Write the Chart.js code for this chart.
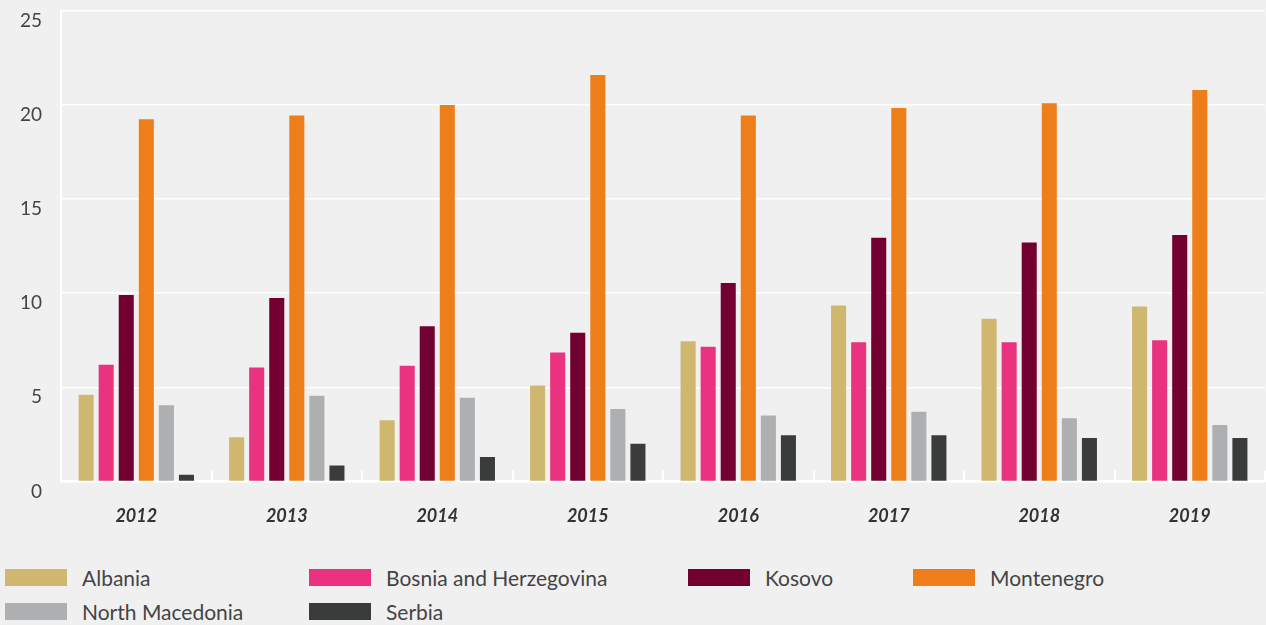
<!DOCTYPE html>
<html>
<head>
<meta charset="utf-8">
<script src="https://cdn.jsdelivr.net/npm/chart.js@4.4.1/dist/chart.umd.min.js"></script>
<style>
    body { margin: 0; background: #f0f0f0; }
    #contenedor { position: relative; width: 1266px; height: 625px; background: #f0f0f0; }
    #zonaGrafico { position: absolute; left: 0; top: 0; width: 1266px; height: 551px; }
    #leyenda { position: absolute; left: 5px; top: 566px; width: 1261px; display: flex; flex-wrap: wrap; row-gap: 11px; }
    .item { display: flex; align-items: center; height: 23px; font-family: Lato, sans-serif; font-size: 21px; color: #444; }
    .caja { width: 62px; height: 17px; margin-right: 15px; }
</style>
</head>
<body>
<div id="contenedor">
    <div id="zonaGrafico"><canvas id="graficoPaises"></canvas></div>
    <div id="leyenda"></div>
</div>
<script>
// Años y valores por país
const anios = ['2012', '2013', '2014', '2015', '2016', '2017', '2018', '2019'];
const albania = [4.6, 2.35, 3.25, 5.1, 7.45, 9.35, 8.65, 9.3];
const bosnia = [6.2, 6.05, 6.15, 6.85, 7.15, 7.4, 7.4, 7.5];
const kosovo = [9.9, 9.75, 8.25, 7.9, 10.55, 12.95, 12.7, 13.1];
const montenegro = [19.25, 19.45, 20.0, 21.6, 19.45, 19.85, 20.1, 20.8];
const macedonia = [4.05, 4.55, 4.45, 3.85, 3.5, 3.7, 3.35, 3.0];
const serbia = [0.35, 0.85, 1.3, 2.0, 2.45, 2.45, 2.3, 2.3];
const ticksY = [0, 5, 10, 15, 20, 25];

const series = [
    { nombre: 'Albania', datos: albania, color: '#CFB76F' },
    { nombre: 'Bosnia and Herzegovina', datos: bosnia, color: '#EA327E' },
    { nombre: 'Kosovo', datos: kosovo, color: '#720030' },
    { nombre: 'Montenegro', datos: montenegro, color: '#EE7E19' },
    { nombre: 'North Macedonia', datos: macedonia, color: '#ADAFB1' },
    { nombre: 'Serbia', datos: serbia, color: '#3A3C3B' }
];

// anchos de cada elemento de la leyenda (4 columnas)
const anchosLeyenda = [304, 379, 225, 300];

// marcas blancas entre años, hacia arriba desde la base
const marcasCategorias = {
    id: 'marcasCategorias',
    afterDatasetsDraw(chart) {
        const x = chart.scales.x;
        const y = chart.scales.y;
        const ctx = chart.ctx;
        const base = y.getPixelForValue(0);
        const paso = (x.right - x.left) / anios.length;
        ctx.save();
        ctx.strokeStyle = '#ffffff';
        ctx.lineWidth = 2;
        for (let i = 0; i <= anios.length; i++) {
            const px = Math.round(x.left + paso * i);
            ctx.beginPath();
            ctx.moveTo(px, base);
            ctx.lineTo(px, base - 11);
            ctx.stroke();
        }
        ctx.restore();
    }
};

function crearGrafico() {
    const ctx = document.getElementById('graficoPaises').getContext('2d');
    new Chart(ctx, {
        type: 'bar',
        data: {
            labels: anios,
            datasets: series.map(s => ({
                label: s.nombre,
                data: s.datos,
                backgroundColor: s.color,
                borderWidth: 0,
                categoryPercentage: 0.8,
                barPercentage: 0.75
            }))
        },
        options: {
            responsive: true,
            maintainAspectRatio: false,
            animation: false,
            layout: { padding: { left: 1, right: 1, top: 11, bottom: 0 } },
            plugins: {
                legend: { display: false },
                tooltip: { enabled: false }
            },
            scales: {
                x: {
                    grid: { drawOnChartArea: false, drawTicks: false },
                    border: { color: '#ffffff', width: 2 },
                    ticks: {
                        padding: 24,
                        color: '#333',
                        font: { family: 'Lato', size: 18, weight: 'bold', style: 'italic' }
                    }
                },
                y: {
                    min: 0,
                    max: 25,
                    afterBuildTicks: scale => { scale.ticks = ticksY.map(v => ({ value: v })); },
                    // sin margen extra arriba y abajo por las etiquetas
                    afterFit: scale => { scale.paddingTop = 0; scale.paddingBottom = 0; },
                    grid: { color: '#ffffff', lineWidth: 1.5, drawTicks: false },
                    border: { color: '#ffffff', width: 2 },
                    ticks: {
                        padding: 19,
                        labelOffset: 10,
                        color: '#444',
                        font: { family: 'Lato', size: 19 }
                    }
                }
            }
        },
        plugins: [marcasCategorias]
    });
}

function crearLeyenda() {
    const cont = document.getElementById('leyenda');
    cont.innerHTML = series.map((s, i) => `
        <div class="item" style="width:${anchosLeyenda[i % 4]}px">
            <span class="caja" style="background:${s.color}"></span>${s.nombre}
        </div>
    `).join('');
}

document.addEventListener('DOMContentLoaded', function() {
    crearGrafico();
    crearLeyenda();
});
</script>
</body>
</html>
